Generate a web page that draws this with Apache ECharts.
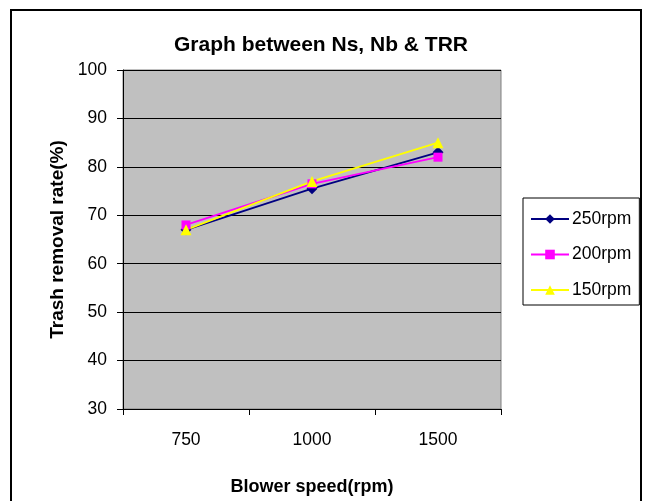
<!DOCTYPE html>
<html>
<head>
<meta charset="utf-8">
<script src="https://cdn.jsdelivr.net/npm/echarts@6/dist/echarts.min.js"></script>
<style>
html,body{margin:0;padding:0;background:#fff;}
#c{width:647px;height:501px;}
</style>
</head>
<body>
<div id="c"></div>
<script>
const categories = ['750', '1000', '1500'];
const s250 = [67, 75.5, 83];
const s200 = [68, 76.5, 82];
const s150 = [67, 77, 85];
const seriesNames = ['250rpm', '200rpm', '150rpm'];

const chart = echarts.init(document.getElementById('c'));
const font = '"Liberation Sans", Arial, sans-serif';
function mk(name, data, color, symbol, size) {
  return {
    name: name, type: 'line', data: data,
    symbol: symbol, symbolSize: size,
    lineStyle: {color: color, width: 1.8},
    itemStyle: {color: color},
    animation: false
  };
}
chart.setOption({
  backgroundColor: '#ffffff',
  animation: false,
  title: {
    text: 'Graph between Ns, Nb & TRR',
    left: 316, top: 30, textAlign: 'center',
    textStyle: {fontFamily: font, fontSize: 21, fontWeight: 'bold', color: '#000'}
  },
  graphic: [{
    type: 'rect', shape: {x: 11, y: 10, width: 630, height: 500},
    style: {fill: 'none', stroke: '#000', lineWidth: 2}, z: -1
  }],
  grid: {
    left: 123, right: 146, top: 70, bottom: 92,
    show: true, backgroundColor: '#C0C0C0', borderColor: '#808080', borderWidth: 1
  },
  legend: {
    orient: 'vertical', left: 523, top: 198,
    width: 116,
    data: seriesNames,
    borderColor: '#000', borderWidth: 1,
    padding: [12, 8, 6, 7],
    itemWidth: 38, itemHeight: 12, itemGap: 17.5,
    textStyle: {fontFamily: font, fontSize: 17.5, color: '#000', padding: [0, 0, 0, -2]}
  },
  xAxis: {
    type: 'category', data: categories, boundaryGap: true,
    name: 'Blower speed(rpm)', nameLocation: 'middle', nameGap: 69,
    nameTextStyle: {fontFamily: font, fontSize: 18, fontWeight: 'bold', color: '#000'},
    axisLine: {lineStyle: {color: '#000', width: 1}},
    axisTick: {show: true, length: 6, lineStyle: {color: '#000'}},
    axisLabel: {fontFamily: font, fontSize: 17.5, color: '#000', margin: 22},
    splitLine: {show: false}
  },
  yAxis: {
    type: 'value', min: 30, max: 100, interval: 10,
    name: 'Trash removal rate(%)', nameLocation: 'middle', nameGap: 52,
    nameTextStyle: {fontFamily: font, fontSize: 19, fontWeight: 'bold', color: '#000'},
    axisLine: {show: true, lineStyle: {color: '#000', width: 1}},
    axisTick: {show: true, length: 6, lineStyle: {color: '#000'}},
    axisLabel: {fontFamily: font, fontSize: 17.5, color: '#000', margin: 16},
    splitLine: {show: true, lineStyle: {color: '#000', width: 1}}
  },
  series: [
    mk(seriesNames[0], s250, '#000080', 'diamond', 11),
    mk(seriesNames[1], s200, '#FF00FF', 'rect', 9),
    mk(seriesNames[2], s150, '#FFFF00', 'triangle', 11)
  ]
});
</script>
</body>
</html>
